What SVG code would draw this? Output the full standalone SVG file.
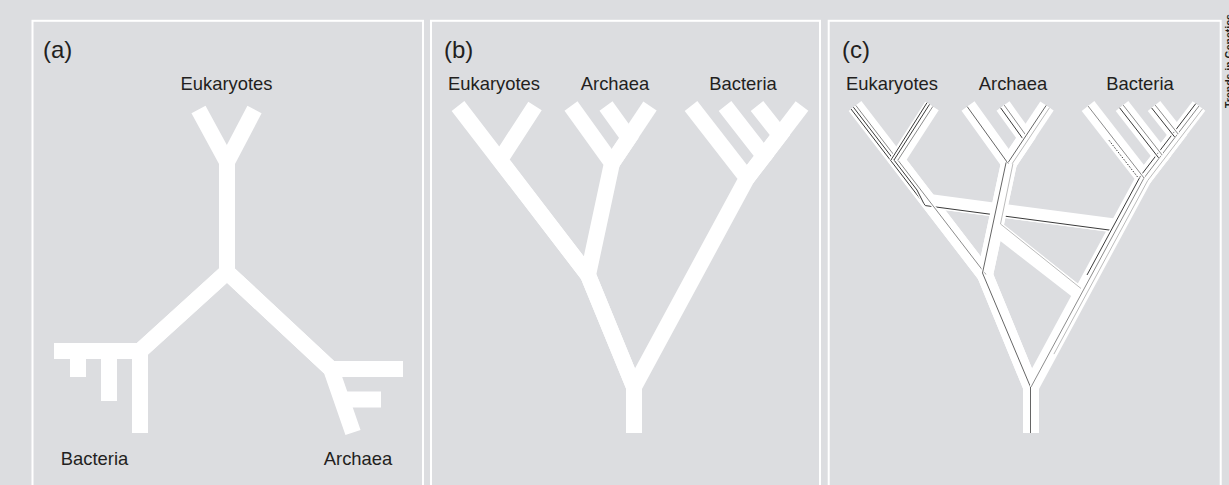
<svg xmlns="http://www.w3.org/2000/svg" xmlns:xlink="http://www.w3.org/1999/xlink" width="1229" height="485" viewBox="0 0 1229 485">
<style>
.bg{fill:#dcdde0}
.frame{fill:none;stroke:#fff;stroke-width:2}
.br{fill:none;stroke:#fff;stroke-width:16;stroke-linecap:butt;stroke-linejoin:miter;stroke-miterlimit:10}
.band{fill:none;stroke:#fff;stroke-width:14;stroke-linecap:butt}
.halo{fill:none;stroke:#fff;stroke-width:3.5;stroke-linecap:butt;stroke-linejoin:miter}
.d{fill:none;stroke:#3a3a3a;stroke-width:1}
.m{fill:none;stroke:#666;stroke-width:1}
.g{fill:none;stroke:#8c8c8c;stroke-width:1}
.l{fill:none;stroke:#bcbcbc;stroke-width:1}
.dot{fill:none;stroke:#3a3a3a;stroke-width:1;stroke-dasharray:1.5 1.5}
.lbl{font-family:"Liberation Sans",Arial,Helvetica,sans-serif;font-size:18.4px;fill:#231f20;text-anchor:middle}
.tag{font-family:"Liberation Sans",Arial,Helvetica,sans-serif;font-size:24px;fill:#231f20}
.src{font-family:"Liberation Sans",Arial,Helvetica,sans-serif;font-size:10.5px;font-weight:bold;fill:#231f20}
</style>
<defs>
<g id="tree">
<path class="br" d="M458,106 L588,275 L634,387 L634,433"/>
<path class="br" d="M535,106 L500,160 L588,275"/>
<path class="br" d="M571,106 L612,163 L588,275 L634,387"/>
<path class="br" d="M650,106 L612,163"/>
<path class="br" d="M606,106 L629,138 L612,163"/>
<path class="br" d="M691,106 L747,178 L634,387 L634,433"/>
<path class="br" d="M725,106 L764,156 L747,178"/>
<path class="br" d="M757,106 L780,135 L764,156"/>
<path class="br" d="M802,106 L747,178"/>
</g>
<path id="gEa" d="M454,109 L528.4,205.6 L714.3,230.3"/>
<path id="gEb" d="M456.4,107.2 L520,190 L526.8,203.5"/>
<path id="gEc" d="M458.8,105.4 L588.8,274.4"/>
<path id="gE21" d="M530,102.7 L493.7,160.5"/>
<path id="gE22" d="M532.5,104.4 L497,160"/>
<path id="gE23" d="M535.8,106.5 L500.9,160.2"/>
<path id="gA1" d="M570.2,106.6 L611.2,163.6"/>
<path id="gA3d" d="M603.6,107.8 L626.6,139.8"/>
<path id="gA3g" d="M607.2,105.1 L630.2,137.1"/>
<path id="gA2d" d="M649.2,105.4 L611.2,162.4"/>
<path id="gA2l" d="M652.5,107.7 L614.5,164.7"/>
<path id="gS" d="M609.1,162.4 L585.5,273 L633.5,387 L633.5,433"/>
<path id="gS2" d="M615.9,163.8 L603.5,224 L684,288.5"/>
<path id="gRA1" d="M634,387 L747,178 L802,106"/>
<path id="gRA2" d="M656.9,354.1 L750.8,180.4 L805.6,108.7"/>
<path id="gG1b" d="M690,275 L743.6,175.8 L798.8,103.6"/>
<path id="gB1" d="M691,106 L747,178"/>
<path id="gB1dot" d="M712,140.3 L741.5,178.2"/>
<path id="gB2d" d="M722.6,107.8 L761.6,157.8"/>
<path id="gB2g" d="M726.2,105.1 L765.2,155.1"/>
<path id="gB3d" d="M754.6,107.9 L777.6,136.9"/>
<path id="gB3g" d="M758.2,105.1 L781.2,134.1"/>
</defs>

<rect class="bg" x="0" y="0" width="1229" height="485"/>

<g id="frames">
<rect class="frame" x="32.5" y="20.8" width="390.5" height="480"/>
<rect class="frame" x="431" y="20.8" width="389" height="480"/>
<rect class="frame" x="828.7" y="20.8" width="392" height="480"/>
</g>

<g id="panel-a">
<text class="tag" x="43" y="58">(a)</text>
<g id="a-eukaryotes">
<path class="br" d="M198.5,109.5 L227,162 L227,272"/>
<path class="br" d="M254.5,109.5 L227,162"/>
<text class="lbl" x="226.5" y="90">Eukaryotes</text>
</g>
<g id="a-bacteria">
<path class="br" d="M227,272 L140,351 L140,433"/>
<path class="br" d="M227,272 L140,351 L54,351"/>
<path class="br" d="M78,355 L78,377"/>
<path class="br" d="M109,355 L109,401"/>
<text class="lbl" x="94.5" y="465">Bacteria</text>
</g>
<g id="a-archaea">
<path class="br" d="M227,272 L331,369 L353,432.5"/>
<path class="br" d="M227,272 L331,369 L403,369"/>
<path class="br" d="M340,399.5 L381,399.5"/>
<text class="lbl" x="358" y="465">Archaea</text>
</g>
</g>

<g id="panel-b">
<text class="tag" x="444" y="58">(b)</text>
<use xlink:href="#tree" href="#tree"/>
<text class="lbl" x="494" y="90">Eukaryotes</text>
<text class="lbl" x="615" y="90">Archaea</text>
<text class="lbl" x="743" y="90">Bacteria</text>
</g>

<g id="panel-c">
<text class="tag" x="842" y="58">(c)</text>
<g transform="translate(397,0)">
<use xlink:href="#tree" href="#tree"/>
<g id="transfers">
<path class="band" d="M532,201 L721,226"/>
<path class="band" d="M598,228 L683,294"/>
</g>
<g id="gene-lines">
<use href="#gEa" class="halo"/><use href="#gEa" class="d"/>
<path class="br" d="M612,163 L588,275"/>
<use href="#gEb" class="halo"/><use href="#gEb" class="d"/>
<use href="#gEc" class="halo"/><use href="#gEc" class="g"/>
<use href="#gE21" class="halo"/><use href="#gE21" class="d"/>
<use href="#gE22" class="halo"/><use href="#gE22" class="d"/>
<use href="#gE23" class="halo"/><use href="#gE23" class="g"/>
<use href="#gA1" class="halo"/><use href="#gA1" class="m"/>
<use href="#gA3d" class="halo"/><use href="#gA3d" class="d"/>
<use href="#gA3g" class="halo"/><use href="#gA3g" class="g"/>
<use href="#gA2d" class="halo"/><use href="#gA2d" class="m"/>
<use href="#gA2l" class="halo"/><use href="#gA2l" class="l"/>
<use href="#gS2" class="halo"/><use href="#gS2" class="l"/>
<use href="#gS" class="halo"/><use href="#gS" class="m"/>
<use href="#gRA2" class="halo"/><use href="#gRA2" class="l"/>
<use href="#gRA1" class="halo"/><use href="#gRA1" class="g"/>
<use href="#gG1b" class="halo"/><use href="#gG1b" class="d"/>
<use href="#gB1" class="halo"/><use href="#gB1" class="g"/>
<use href="#gB1dot" class="halo"/><use href="#gB1dot" class="dot"/>
<use href="#gB2d" class="halo"/><use href="#gB2d" class="d"/>
<use href="#gB2g" class="halo"/><use href="#gB2g" class="g"/>
<use href="#gB3d" class="halo"/><use href="#gB3d" class="d"/>
<use href="#gB3g" class="halo"/><use href="#gB3g" class="g"/>
</g>
</g>
<text class="lbl" x="892" y="90">Eukaryotes</text>
<text class="lbl" x="1013" y="90">Archaea</text>
<text class="lbl" x="1140" y="90">Bacteria</text>
</g>

<text class="src" transform="translate(1233,108) rotate(-90)">Trends in Genetics</text>
</svg>
